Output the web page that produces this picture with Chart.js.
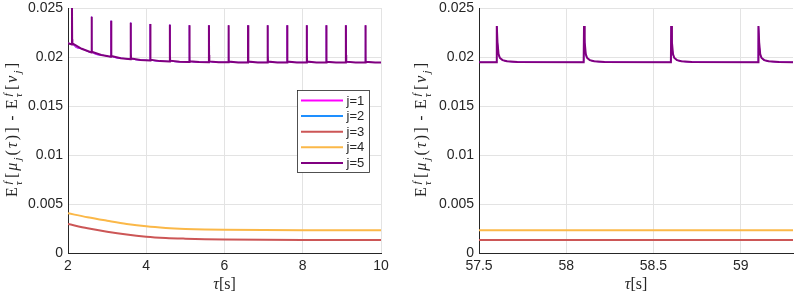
<!DOCTYPE html>
<html><head><meta charset="utf-8">
<script src="https://cdn.jsdelivr.net/npm/chart.js@4"></script>
<style>
body{margin:0;background:#fff;width:797px;height:298px;overflow:hidden;position:relative}
canvas{position:absolute;top:0}
</style>
</head><body>
<canvas id="c1" width="400" height="298" style="left:0"></canvas>
<canvas id="c2" width="397" height="298" style="left:400px"></canvas>
<script>
// ---------- data ----------
const seriesNames = ['j=1','j=2','j=3','j=4','j=5'];
const seriesColors = ['#ff00ff','#1e8fff','#cc5656','#fbb848','#800080'];

const yTicks = [0,0.005,0.01,0.015,0.02,0.025];
const yTickLabels = ['0','0.005','0.01','0.015','0.02','0.025'];
const xTicksLeft = [2,4,6,8,10];
const xTickLabelsLeft = ['2','4','6','8','10'];
const xTicksRight = [57.5,58,58.5,59];
const xTickLabelsRight = ['57.5','58','58.5','59'];

const j3Left = [[2,0.00296],[2.5,0.00253],[3,0.00217],[3.5,0.00188],[4,0.00167],[4.5,0.00154],[5,0.00146],[5.5,0.0014],[6,0.00137],[7,0.00134],[8,0.00133],[10,0.00132]];
const j4Left = [[2,0.00405],[2.5,0.00365],[3,0.0033],[3.5,0.00297],[4,0.00272],[4.5,0.00256],[5,0.00246],[5.5,0.0024],[6,0.00237],[7,0.00234],[8,0.00233],[10,0.00232]];
const j5Left = [
[2.0,0.02142],
[2.1,0.02128],[2.102,0.0250],[2.106,0.0218],[2.112,0.02138],[2.35,0.02084],
[2.6,0.02046],[2.602,0.02411],[2.606,0.0211],[2.612,0.02054],[2.85,0.02020],
[3.1,0.02002],[3.102,0.0237],[3.106,0.0207],[3.112,0.0201],[3.35,0.01988],
[3.6,0.01978],[3.602,0.0235],[3.606,0.0204],[3.612,0.01986],[3.85,0.01970],
[4.1,0.01964],[4.102,0.02337],[4.106,0.0203],[4.112,0.01972],[4.35,0.01958],
[4.6,0.01954],[4.602,0.0233],[4.606,0.0202],[4.612,0.01962],[4.85,0.01951],
[5.1,0.01949],[5.102,0.02325],[5.106,0.0202],[5.112,0.01957],[5.35,0.01948],
[5.6,0.01947],[5.602,0.02323],[5.606,0.0202],[5.612,0.01955],[5.85,0.01946],
[6.1,0.01946],[6.102,0.02323],[6.106,0.0202],[6.112,0.01954],[6.35,0.01945],
[6.6,0.01945],[6.602,0.02323],[6.606,0.0202],[6.612,0.01953],[6.85,0.01945],
[7.1,0.01945],[7.102,0.02323],[7.106,0.0202],[7.112,0.01953],[7.35,0.01945],
[7.6,0.01945],[7.602,0.02323],[7.606,0.0202],[7.612,0.01953],[7.85,0.01945],
[8.1,0.01945],[8.102,0.02323],[8.106,0.0202],[8.112,0.01953],[8.35,0.01944],
[8.6,0.01944],[8.602,0.02323],[8.606,0.0202],[8.612,0.01952],[8.85,0.01944],
[9.1,0.01944],[9.102,0.02323],[9.106,0.0202],[9.112,0.01952],[9.35,0.01944],
[9.6,0.01944],[9.602,0.02323],[9.606,0.0202],[9.612,0.01952],[9.85,0.01944],
[10.0,0.01944]];
const j1Left = j5Left;
const j2Left = j5Left;

const j3Right = [[57.5,0.00133],[59.3,0.00133]];
const j4Right = [[57.5,0.00232],[59.3,0.00232]];
const j5Right = [
[57.5,0.01946],
[57.6,0.01946],[57.602,0.02316],[57.606,0.0215],[57.612,0.0203],[57.62,0.0199],[57.635,0.01968],[57.66,0.01956],[57.72,0.01949],
[58.1,0.01946],[58.102,0.02316],[58.106,0.0215],[58.112,0.0203],[58.12,0.0199],[58.135,0.01968],[58.16,0.01956],[58.22,0.01949],
[58.6,0.01946],[58.602,0.02316],[58.606,0.0215],[58.612,0.0203],[58.62,0.0199],[58.635,0.01968],[58.66,0.01956],[58.72,0.01949],
[59.1,0.01946],[59.102,0.02316],[59.106,0.0215],[59.112,0.0203],[59.12,0.0199],[59.135,0.01968],[59.16,0.01956],[59.22,0.01949],
[59.3,0.01946]];
const j1Right = j5Right;
const j2Right = j5Right;

// ---------- drawing helpers ----------
const TXT = '#262626';
const SERIF = '"Liberation Serif", "DejaVu Serif", serif';
const SANS = '"Liberation Sans", Arial, sans-serif';

function drawMath(ctx, parts, cx, cy, rotate, target){
  const M = 16, S = 11;
  ctx.save();
  ctx.translate(cx, cy);
  if (rotate) ctx.rotate(-Math.PI/2);
  ctx.fillStyle = TXT;
  ctx.textBaseline = 'alphabetic';
  ctx.textAlign = 'left';
  const fontOf = (p, small) => (p.it ? 'italic ' : '') + (small ? S : M) + 'px ' + (p.sans ? SANS : SERIF);
  const items = parts.map(p => {
    if (p.sup !== undefined) {
      ctx.font = 'italic ' + S + 'px ' + SERIF;
      return {p, w: Math.max(ctx.measureText(p.sup).width, ctx.measureText(p.sub).width) + 1};
    }
    ctx.font = fontOf(p, p.small);
    return {p, w: ctx.measureText(p.t).width};
  });
  let total = items.reduce((a,b)=>a+b.w,0);
  let gap = 0;
  if (target && items.length > 1) gap = Math.max(0,(target-total)/(items.length-1));
  total += gap*(items.length-1);
  let x = -total/2;
  const base = M*0.33;
  items.forEach(it => {
    const p = it.p;
    if (p.sup !== undefined) {
      ctx.font = 'italic ' + S + 'px ' + SERIF;
      ctx.fillText(p.sup, x+1, base - M*0.42);
      ctx.fillText(p.sub, x, base + M*0.28);
    } else {
      ctx.font = fontOf(p, p.small);
      ctx.fillText(p.t, x, base + (p.small ? M*0.22 : 0));
    }
    x += it.w + gap;
  });
  ctx.restore();
}

const yLabelParts = [
  {t:'E'},{sup:'f',sub:'τ'},{t:'['},{t:'μ',it:1},{t:'j',it:1,small:1},{t:'('},{t:'τ',it:1},{t:')'},{t:']'},
  {t:' - ',sans:1},
  {t:'E'},{sup:'f',sub:'τ'},{t:'['},{t:'v',it:1},{t:'j',it:1,small:1},{t:']'}
];
const xLabelParts = [{t:'τ',it:1},{t:'[s]'}];

function labelsPlugin(yCx){
  return {
    id:'labels',
    afterDraw(chart){
      const ctx = chart.ctx, a = chart.chartArea;
      drawMath(ctx, yLabelParts, yCx, 130, true, 134);
      drawMath(ctx, xLabelParts, (a.left+a.right)/2, 284, false, 0);
    }
  };
}

const legendPlugin = {
  id:'boxLegend',
  afterDraw(chart){
    const ctx = chart.ctx;
    ctx.save();
    ctx.fillStyle = '#fff';
    ctx.fillRect(297.5, 90.5, 72, 82);
    ctx.strokeStyle = TXT; ctx.lineWidth = 0.8;
    ctx.strokeRect(297.5, 90.5, 72, 82);
    ctx.font = '13px ' + SANS;
    ctx.textBaseline = 'middle';
    ctx.textAlign = 'left';
    seriesNames.forEach((n,i) => {
      const y = 100.5 + i*15.6;
      ctx.strokeStyle = seriesColors[i]; ctx.lineWidth = 2;
      ctx.beginPath(); ctx.moveTo(301, y); ctx.lineTo(343, y); ctx.stroke();
      ctx.fillStyle = TXT;
      ctx.fillText(n, 346.5, y+0.5);
    });
    ctx.restore();
  }
};

function makeChart(id, data, xMin, xMax, xTicks, xLabels, yWidth, padRight, yCx, extra){
  const datasets = data.map((d,i) => ({
    label: seriesNames[i],
    data: d,
    borderColor: seriesColors[i],
    borderWidth: i < 2 ? 1 : 2,
    pointRadius: 0,
    fill: false,
    tension: i===4 ? 0 : 0.4,
    cubicInterpolationMode: i===4 ? 'default' : 'monotone',
    order: i===4 ? 0 : 1
  }));
  const plugins = [labelsPlugin(yCx)];
  if (extra) plugins.push(extra);
  return new Chart(document.getElementById(id), {
    type:'line',
    data:{datasets},
    options:{
      responsive:false, animation:false, devicePixelRatio:1,
      layout:{padding:{top:8,right:padRight,left:0,bottom:0}},
      plugins:{legend:{display:false},tooltip:{enabled:false}},
      scales:{
        x:{
          type:'linear', min:xMin, max:xMax,
          afterBuildTicks:s=>{s.ticks = xTicks.map(v=>({value:v}));},
          afterFit:s=>{s.height = 45; s.paddingLeft = 0; s.paddingRight = 0;},
          ticks:{callback:(v,i)=>xLabels[i], font:{family:SANS,size:14}, color:TXT, maxRotation:0, autoSkip:false, padding:5},
          grid:{color:'#e3e3e3', drawTicks:false, lineWidth:1},
          border:{color:TXT, width:1}
        },
        y:{
          type:'linear', min:0, max:0.025,
          afterBuildTicks:s=>{s.ticks = yTicks.map(v=>({value:v}));},
          afterFit:s=>{s.width = yWidth; s.paddingTop = 0; s.paddingBottom = 0;},
          ticks:{callback:(v,i)=>yTickLabels[i], font:{family:SANS,size:14}, color:TXT, padding:5},
          grid:{color:'#e3e3e3', drawTicks:false, lineWidth:1},
          border:{color:TXT, width:1}
        }
      }
    },
    plugins
  });
}

makeChart('c1', [j1Left,j2Left,j3Left,j4Left,j5Left], 2, 10, xTicksLeft, xTickLabelsLeft, 68, 19, 12, legendPlugin);
makeChart('c2', [j1Right,j2Right,j3Right,j4Right,j5Right], 57.5, 59.3, xTicksRight, xTickLabelsRight, 79, 4, 21, null);
</script>
</body></html>
